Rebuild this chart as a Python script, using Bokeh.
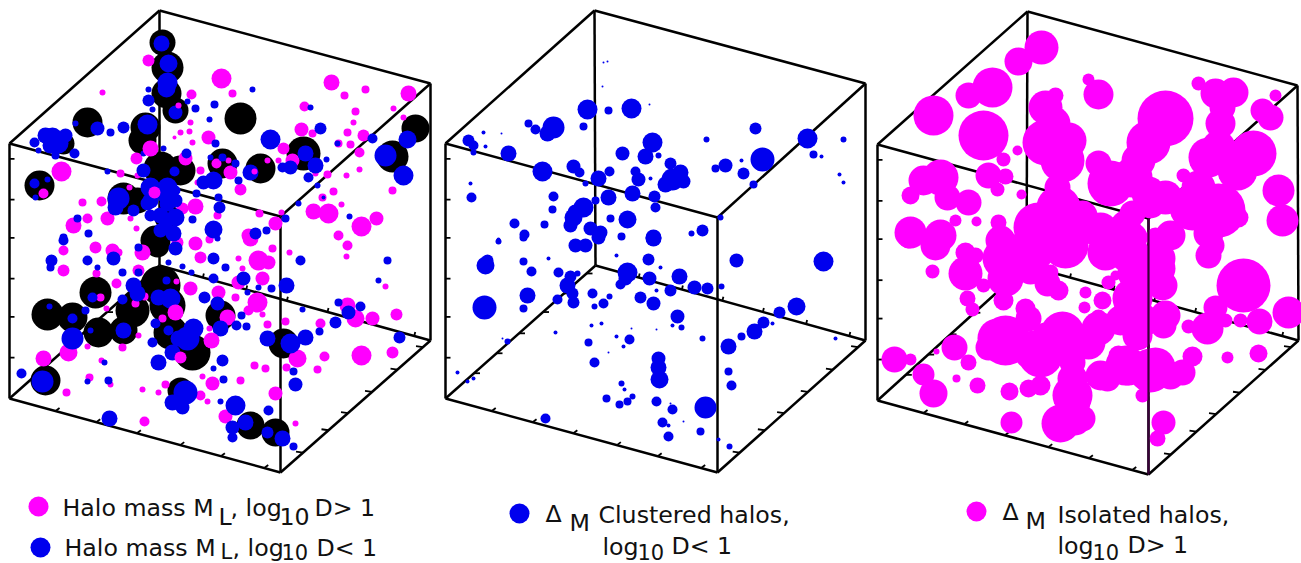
from bokeh.plotting import figure
from bokeh.models import Range1d, ColumnDataSource
from bokeh.core.properties import value
from bokeh.embed import file_html
from bokeh.resources import INLINE

MAGENTA = "#ff00ff"
BLUE = "#0000ee"
BLACK = "#000000"

# Cube corners: back-top, left-top, right-top, front-top,
# back-bottom, left-bottom, right-bottom, front-bottom
CUBE_1 = [(159,10),(9,143),(430,83),(280,216),(159,265),(9,398),(430,340),(280,472)]
CUBE_2 = [(594,10),(445,143),(865,83),(717,217),(595,265),(445,398),(865,340),(717,472)]
CUBE_3 = [(1027,11),(877,144),(1297,85),(1148,218),(1026,265),(877,400),(1298,340),(1148,474)]

TICKS_LEFT = [.06,.22,.37,.53,.68,.84]
TICKS_FRONT = [.17,.32,.47,.63,.78,.94]
TICKS_RIGHT = [.15,.32,.45,.61,.78,.95]
TICKS_BL = [.19,.34,.49,.65,.79,.94]
TICKS_BR = [.16,.32,.47,.62,.78,.94]

# Panel 1
P1_BLACK = [(162,42,13),(167,67,16),(166,93,15),(175,110,13),(87,122,15),(240,118,16),(415,128,14),
(392,156,16),(145,127,15),(142,140,14),(160,168,17),(180,170,15),(222,163,15),(260,168,15),(303,153,17),
(63,143,11),(39,185,15),(123,198,16),(137,200,13),(167,217,13),(155,240,15),(157,245,12),(95,292,16),
(47,314,16),(72,317,15),(98,332,15),(132,310,17),(123,330,14),(160,285,20),(167,305,18),(170,332,17),
(192,352,18),(220,315,15),(45,380,15),(180,390,13),(283,343,15),(250,425,14),(275,432,14)]

P1_MAGENTA = [(221,78,10),(331,82,8),(365,89,4),(344,95,4),(408,93,8),(232,93,4),(191,94,5),(148,60,6),
(102,92,3),(304,106,5),(355,111,4),(393,108,3),(353,122,3),(403,117,3),(190,122,3),(180,132,3),(189,131,3),
(174,137,2),(192,142,3),(208,137,7),(301,129,7),(312,133,4),(347,132,4),(363,135,6),(350,144,4),(338,143,4),
(359,152,5),(283,148,6),(267,160,3),(292,160,7),(278,160,3),(136,158,6),(185,158,7),(216,163,5),(230,172,7),
(228,160,3),(240,189,6),(200,170,4),(197,182,3),(61,171,10),(120,173,4),(137,175,3),(129,187,3),(327,174,4),
(315,173,3),(346,175,3),(359,169,3),(333,191,4),(392,190,4),(322,197,4),(341,204,3),(313,211,8),(328,213,10),
(361,226,10),(376,218,7),(338,235,5),(195,206,8),(182,208,6),(217,215,4),(259,213,4),(275,223,7),(281,212,3),
(248,235,7),(82,202,4),(101,201,5),(87,218,5),(73,225,8),(107,218,7),(130,218,3),(136,228,3),(63,250,5),
(63,270,6),(95,247,6),(112,250,7),(118,252,4),(142,252,8),(200,257,6),(195,243,7),(209,239,4),(177,242,6),
(250,238,8),(272,248,4),(289,252,3),(238,258,3),(258,260,10),(268,262,7),(242,268,3),(262,278,7),(238,282,7),
(218,292,7),(235,297,4),(257,302,10),(248,310,5),(262,314,3),(267,324,4),(227,317,8),(209,328,3),(162,318,4),
(190,288,7),(138,270,6),(116,283,5),(96,273,4),(100,297,4),(106,308,3),(135,303,4),(144,296,4),(176,281,3),
(122,347,4),(138,335,3),(87,346,3),(68,352,9),(43,358,8),(101,360,3),(89,377,4),(110,384,3),(66,392,4),
(142,389,3),(158,392,3),(165,384,4),(202,376,3),(212,383,7),(240,380,4),(200,395,5),(207,401,3),(144,421,5),
(225,416,7),(275,393,7),(295,423,3),(254,365,4),(265,368,4),(286,367,4),(285,321,4),(297,358,9),(324,356,5),
(317,369,4),(361,355,10),(392,352,6),(396,314,6),(372,318,7),(355,318,9),(347,305,8),(320,323,5),(385,286,3),
(347,245,5),(346,256,3)]

P1_BLUE = [(161,43,8),(168,63,9),(167,82,10),(166,88,9),(175,112,7),(148,100,6),(148,89,3),(152,109,3),
(195,108,4),(214,104,4),(209,119,3),(252,89,3),(187,101,3),(97,128,7),(75,123,3),(110,132,4),(123,127,6),
(147,124,10),(52,137,10),(65,135,7),(34,142,5),(38,150,3),(55,155,4),(74,153,5),(270,139,10),(320,128,6),
(310,107,3),(215,143,4),(186,153,5),(210,157,3),(222,157,4),(235,163,4),(250,172,8),(238,180,4),(213,180,9),
(203,182,7),(305,153,8),(315,165,8),(290,167,7),(282,167,5),(308,177,5),(326,159,3),(317,185,3),(372,138,5),
(407,139,9),(385,155,11),(403,175,10),(337,143,3),(34,183,5),(47,179,3),(35,197,3),(107,171,3),(143,153,3),
(163,148,3),(143,170,7),(150,187,10),(167,187,10),(174,171,5),(118,198,11),(115,207,8),(133,210,6),(147,203,7),
(167,203,8),(175,217,9),(160,230,7),(173,233,8),(192,219,4),(196,193,4),(218,197,4),(219,207,6),(213,229,9),
(285,218,4),(298,203,3),(349,216,3),(323,197,2),(255,233,6),(266,230,4),(88,233,4),(63,237,4),(77,218,4),
(63,240,5),(51,260,6),(50,267,4),(87,260,5),(113,258,7),(97,267,3),(122,272,4),(138,247,4),(175,248,7),
(213,258,6),(217,238,3),(225,267,4),(168,262,3),(182,266,3),(191,272,3),(138,272,4),(133,285,8),(137,293,8),
(122,299,5),(92,297,5),(85,310,4),(49,306,3),(72,318,5),(90,330,3),(72,338,11),(123,330,8),(158,297,8),
(170,298,10),(166,280,4),(155,323,5),(168,330,5),(152,342,5),(158,362,8),(172,352,8),(187,338,12),(193,328,10),
(178,338,8),(213,278,5),(204,297,6),(217,303,7),(243,278,7),(247,292,3),(258,287,3),(271,288,4),(286,285,8),
(241,315,4),(236,325,5),(246,326,4),(220,328,8),(222,360,6),(213,368,3),(104,362,3),(21,373,5),(42,381,11),
(87,381,3),(108,380,4),(223,379,4),(185,392,12),(172,402,8),(182,407,7),(220,401,3),(268,410,5),(235,405,10),
(245,422,8),(232,427,7),(232,437,5),(267,432,6),(282,438,8),(293,446,4),(295,384,7),(293,371,4),(302,309,3),
(267,338,8),(290,343,10),(305,337,8),(319,331,4),(300,260,5),(387,260,4),(378,280,3),(338,302,4),(348,312,7),
(360,306,5),(335,322,6),(399,337,6),(109,418,8),
(150,200,8),(165,195,8),(160,215,8),(175,200,7),(165,225,7),(150,215,6),(175,190,5),(45,135,8),(58,143,10),(50,145,8)]

P1_MAGENTA_TOP = [(178,105,3),(150,148,8),(254,171,3),(43,193,5),(154,192,6),(175,312,8),(211,340,8),(180,357,6)]

# Panel 2
P2_BLUE = [(587,109,10),(631,108,10),(608,110,4),(583,126,4),(528,123,4),(553,127,11),(547,133,8),(535,129,5),
(468,140,6),(473,145,5),(473,152,3),(485,146,2),(483,132,2),(501,133,1),(508,153,8),(542,171,10),(573,166,7),
(579,172,5),(598,178,8),(609,171,5),(585,183,3),(622,153,7),(652,142,10),(645,156,8),(658,155,3),(670,163,6),
(635,171,5),(638,179,7),(650,178,2),(672,179,11),(683,181,7),(706,139,3),(755,128,6),(807,138,10),(762,159,12),
(725,165,7),(715,168,4),(741,160,2),(743,173,6),(753,184,4),(843,139,3),(813,154,4),(821,156,2),(839,174,2),
(843,182,2),(720,217,3),(470,183,2),(471,197,5),(553,196,5),(552,209,4),(608,197,8),(632,193,8),(654,196,6),
(655,207,5),(595,200,4),(583,207,10),(573,217,9),(627,219,9),(610,218,4),(590,228,7),(600,232,7),(514,223,5),
(544,224,4),(524,234,5),(621,236,4),(653,237,8),(691,233,3),(702,230,6),(498,239,2),(607,61,1),(603,62,1),
(602,86,1),(649,104,1),(498,241,3),(523,237,4),(575,245,7),(585,245,7),(598,237,7),(653,238,8),(485,265,9),
(487,260,6),(523,261,4),(531,271,5),(548,258,2),(616,255,2),(648,259,6),(660,267,2),(558,272,5),(570,276,6),
(567,285,8),(577,273,3),(572,293,6),(573,302,6),(557,299,5),(527,295,8),(523,308,4),(484,307,12),(627,272,10),
(625,278,7),(620,284,5),(649,278,7),(679,276,8),(670,290,6),(694,287,7),(707,288,6),(721,286,3),(656,290,2),
(592,293,5),(609,296,3),(603,303,5),(594,306,3),(640,297,6),(653,303,7),(677,316,7),(672,325,2),(681,327,3),
(591,325,2),(601,323,2),(555,332,2),(588,342,4),(629,339,5),(623,346,2),(616,336,2),(608,352,1),(631,328,1),
(656,329,1),(702,338,3),(728,346,8),(741,336,4),(754,331,8),(763,322,6),(779,312,6),(796,306,9),(772,323,2),
(736,260,7),(823,261,10),(835,338,2),(507,341,3),(502,338,1),(457,372,2),(467,381,2),(473,378,2),(594,362,5),
(658,358,7),(658,367,8),(659,379,9),(728,371,4),(731,385,5),(621,383,3),(624,389,2),(606,398,4),(632,396,3),
(627,401,4),(619,404,4),(656,401,5),(672,409,5),(670,403,1),(705,407,11),(545,418,5),(662,422,5),(668,425,2),
(683,421,1),(700,431,4),(668,436,5),(718,439,2),(729,446,3),
(570,225,7),(575,212,8),(680,172,8),(665,184,8)]

# Panel 3
P3_MAGENTA = [(1041,47,17),(1018,61,14),(992,87,20),(968,95,13),(933,115,20),(983,135,25),(1088,79,6),(1098,94,15),
(1045,107,17),(1055,95,8),(1053,123,17),(1045,142,23),(1068,140,18),(1062,160,22),(1057,187,13),(1017,150,5),
(1003,159,7),(988,175,13),(1005,176,8),(997,189,7),(1021,194,5),(940,177,18),(923,180,15),(910,195,9),(947,197,13),
(968,202,13),(955,220,6),(976,221,5),(910,232,16),(940,235,16),(998,222,8),(1165,118,28),(1148,142,22),(1138,160,17),
(1098,163,13),(1110,183,23),(1132,177,20),(1148,193,17),(1132,213,13),(1150,203,15),(1082,215,15),(1058,207,22),
(1038,227,25),(1068,233,20),(1198,83,7),(1215,93,15),(1233,92,15),(1220,123,15),(1222,107,13),(1275,95,6),
(1262,110,12),(1270,117,13),(1253,153,23),(1208,157,20),(1218,147,17),(1237,170,20),(1183,175,7),(1198,187,17),
(1278,190,16),(1282,220,16),(1218,210,27),(1192,207,23),(1238,217,10),(1165,197,17),(1208,233,15),(1132,237,15),
(1155,237,10),(908,238,10),(935,245,15),(965,252,10),(975,255,8),(932,271,7),(965,273,17),(983,285,7),(967,298,8),
(972,309,7),(1005,278,18),(1002,258,20),(1003,300,10),(1032,248,23),(1065,245,23),(1105,252,18),(1128,252,20),
(1050,272,8),(1047,283,13),(1058,290,10),(1085,292,6),(1084,307,6),(1102,300,9),(1108,282,7),(1115,275,5),
(1208,255,13),(1212,245,12),(1243,285,27),(1215,307,12),(1158,258,17),(1162,285,15),(1158,268,17),(1135,272,18),
(1132,298,20),(1165,315,15),(1163,325,13),(1137,335,15),(1188,326,7),(1207,328,16),(1225,320,7),(1240,320,7),
(1259,321,13),(1288,312,16),(1227,357,6),(1258,353,9),(1192,356,10),(1182,372,13),(1155,367,20),(1128,368,17),
(1107,378,13),(1142,395,7),(1072,378,15),(1118,355,10),(1072,362,13),(1075,402,15),(1060,423,19),(1082,418,13),
(1011,422,11),(1009,391,9),(1028,388,9),(1040,385,10),(977,385,8),(956,378,4),(933,393,14),(923,374,11),(968,362,8),
(954,347,13),(936,351,3),(894,359,13),(910,359,6),(997,338,20),(988,347,13),(1033,350,20),(1062,333,22),(1088,342,17),
(1028,318,13),(1045,335,13),(1098,328,17),(1163,422,12),(1157,438,8),(1098,317,8),(1025,308,10),
(1100,230,18),(1125,225,15),(1170,235,15),(1030,270,14),(1000,240,15),(1120,320,15),(1140,320,18),(1072,395,20),
(1075,420,15),(1005,340,25),(1040,355,22),(1125,365,20),(1100,375,15),(1150,370,22),(1170,375,14),(1080,228,16)]

# Legend markers and texts (text, left edge, centre line)
LEGEND_MARKERS = [(38,506,10,MAGENTA),(40,547,10,BLUE),(519,513,10,BLUE),(976,511,10,MAGENTA)]
LEGEND_TEXTS = [
("Halo mass M",62,507),("L",218,516),(", log",230,507),("10",279,516),("D> 1",314,507),
("Halo mass M",64,547),(", log",232,547),("D< 1",316,547),
("\u0394",545,513),("M",569,522),("Clustered halos,",598,514),("log",602,546),("D< 1",671,545),
("\u0394",1002,511),("M",1025,520),("Isolated halos,",1057,514),("log",1057,545),("D> 1",1127,544),
]
# Subscripts of the last line, which run into the bottom edge of the picture
LEGEND_LOW_TEXTS = [("L",220,551),("10",281,551),("10",637,551),("10",1092,551)]

p = figure(width=1301, height=563, output_backend="svg", toolbar_location=None,
           x_range=Range1d(0, 1301), y_range=Range1d(563, 0), min_border=0)
p.axis.visible = False
p.xgrid.visible = False
p.ygrid.visible = False
p.outline_line_color = None
p.background_fill_color = "white"

def cube_edges(c):
    back, left, right, front, bback, bleft, bright, bfront = c
    edges = [(back,left),(back,right),(left,front),(right,front),
             (back,bback),(left,bleft),(right,bright),
             (bleft,bback),(bback,bright),(bleft,bfront),(bright,bfront)]
    return [[a[0],b[0]] for a,b in edges], [[a[1],b[1]] for a,b in edges]

def cube_ticks(c):
    back, left, right, front, bback, bleft, bright, bfront = c
    xs, ys = [], []
    for f in TICKS_LEFT:
        y = left[1] + (bleft[1]-left[1])*f
        xs.append([left[0], left[0]+5]); ys.append([y, y])
    for f in TICKS_FRONT:
        x = bleft[0] + (bfront[0]-bleft[0])*f; y = bleft[1] + (bfront[1]-bleft[1])*f
        xs.append([x, x+4]); ys.append([y, y-3])
    for f in TICKS_RIGHT:
        x = bfront[0] + (bright[0]-bfront[0])*f; y = bfront[1] + (bright[1]-bfront[1])*f
        xs.append([x, x-7]); ys.append([y, y-1])
    for f in TICKS_BL:
        x = bleft[0] + (bback[0]-bleft[0])*f; y = bleft[1] + (bback[1]-bleft[1])*f
        xs.append([x, x+6]); ys.append([y, y])
    for f in TICKS_BR:
        x = bback[0] + (bright[0]-bback[0])*f; y = bback[1] + (bright[1]-bback[1])*f
        xs.append([x, x+1]); ys.append([y, y-4])
    return xs, ys

def draw_cube(c):
    xs, ys = cube_edges(c)
    p.multi_line(xs, ys, line_color=BLACK, line_width=2.5)
    tx, ty = cube_ticks(c)
    p.multi_line(tx, ty, line_color=BLACK, line_width=1.8)
    p.line([c[3][0], c[7][0]], [c[3][1], c[7][1]], line_color=BLACK, line_width=2.5)

def dots(rows, color):
    src = ColumnDataSource(dict(x=[r[0] for r in rows], y=[r[1] for r in rows], r=[r[2] for r in rows]))
    p.circle(x="x", y="y", radius="r", source=src, fill_color=color, line_color=None)

for cube in (CUBE_1, CUBE_2, CUBE_3):
    draw_cube(cube)

dots(P1_BLACK, BLACK)
dots(P1_MAGENTA, MAGENTA)
dots(P1_BLUE, BLUE)
dots(P1_MAGENTA_TOP, MAGENTA)
dots(P2_BLUE, BLUE)
dots(P3_MAGENTA, MAGENTA)

# front vertical of the third cube shows through the halos
p.line([CUBE_3[3][0], CUBE_3[7][0]], [CUBE_3[3][1], CUBE_3[7][1]], line_color="#3a003a", line_width=2.2)

for x, y, r, col in LEGEND_MARKERS:
    p.circle(x=[x], y=[y], radius=[r], fill_color=col, line_color=None)

p.text(x=[t[1] for t in LEGEND_TEXTS], y=[t[2] for t in LEGEND_TEXTS], text=[t[0] for t in LEGEND_TEXTS],
       text_font=value("DejaVu Sans"), text_font_size="23.7px", text_color="#111111",
       text_baseline="middle", text_align="left")
p.text(x=[t[1] for t in LEGEND_LOW_TEXTS], y=[t[2] for t in LEGEND_LOW_TEXTS], text=[t[0] for t in LEGEND_LOW_TEXTS],
       text_font=value("DejaVu Sans"), text_font_size="21px", text_color="#111111",
       text_baseline="middle", text_align="left")

open("out.html", "w").write(file_html(p, INLINE))
